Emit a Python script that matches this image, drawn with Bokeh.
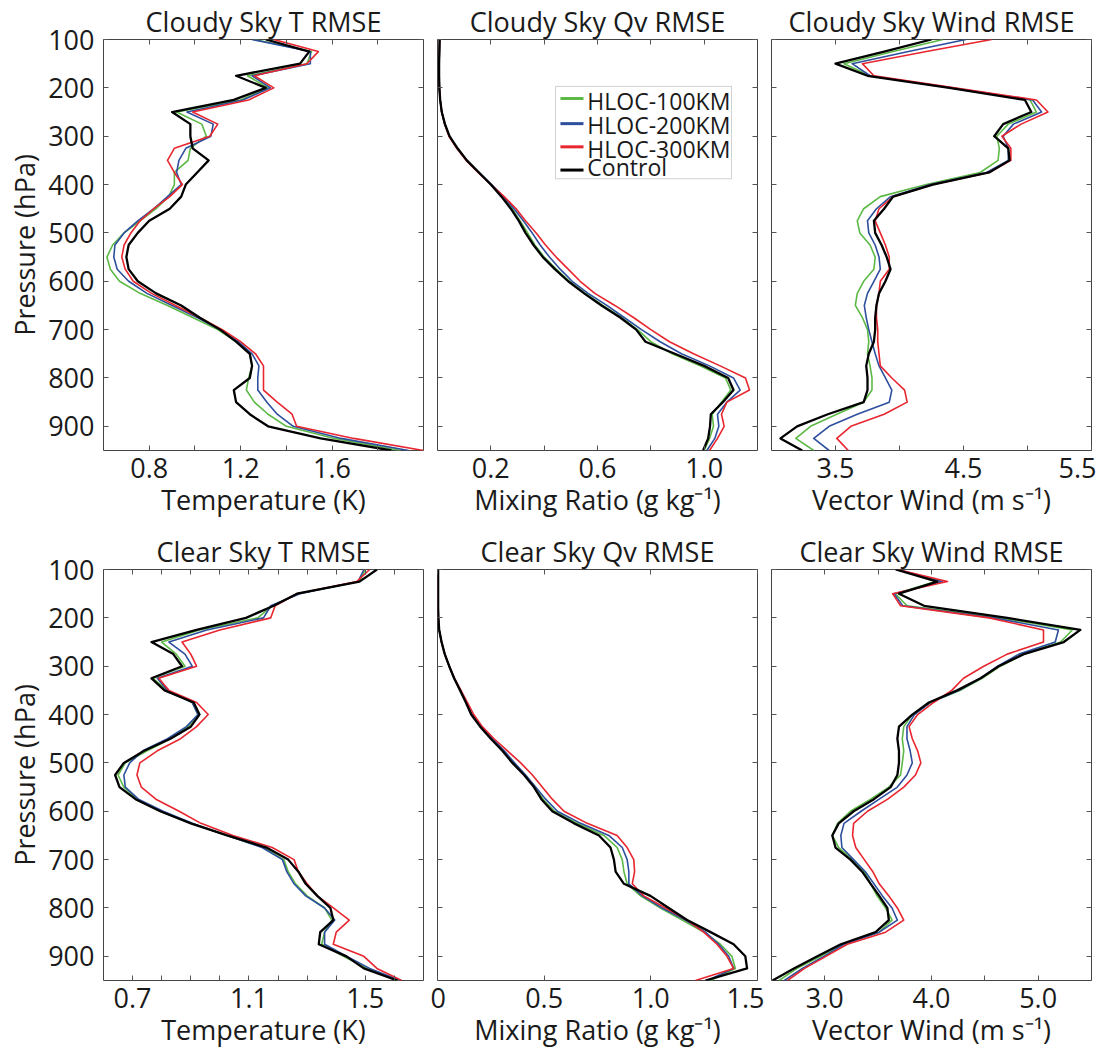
from bokeh.plotting import figure
from bokeh.layouts import row, column
from bokeh.models import Range1d, FixedTicker, LinearAxis, BoxAnnotation, ColumnDataSource
from bokeh.core.properties import value
from bokeh.embed import file_html
from bokeh.resources import INLINE

# ---------------- data ----------------
pressure = [100, 125, 150, 175, 200, 225, 250, 275, 300, 325, 350, 375, 400, 425, 450, 475,
            500, 525, 550, 575, 600, 625, 650, 675, 700, 725, 750, 775, 800, 825, 850, 875,
            900, 925, 950]
series_names = ["HLOC-100KM", "HLOC-200KM", "HLOC-300KM", "Control"]

# Cloudy sky temperature RMSE (K)
cloudy_t_100 = [1.26, 1.51, 1.49, 1.23, 1.32, 1.20, 0.92, 1.03, 1.05, 0.98, 0.97, 0.91, 0.91, 0.885, 0.83, 0.76,
                0.69, 0.64, 0.615, 0.63, 0.67, 0.76, 0.88, 0.99, 1.10, 1.18, 1.24, 1.25, 1.235, 1.225, 1.26, 1.32,
                1.40, 1.61, 1.90]
cloudy_t_200 = [1.25, 1.505, 1.505, 1.25, 1.33, 1.21, 0.965, 1.08, 1.07, 0.96, 0.93, 0.92, 0.94, 0.88, 0.82, 0.75,
                0.69, 0.65, 0.645, 0.66, 0.71, 0.79, 0.90, 1.01, 1.11, 1.19, 1.25, 1.28, 1.275, 1.275, 1.315, 1.36,
                1.43, 1.64, 1.935]
cloudy_t_300 = [1.345, 1.54, 1.49, 1.26, 1.345, 1.235, 0.99, 1.10, 1.065, 0.91, 0.88, 0.91, 0.945, 0.89, 0.82, 0.76,
                0.72, 0.69, 0.68, 0.695, 0.73, 0.81, 0.915, 1.02, 1.12, 1.20, 1.265, 1.30, 1.30, 1.30, 1.36, 1.425,
                1.445, 1.695, 2.0]
cloudy_t_ctl = [1.31, 1.50, 1.46, 1.18, 1.31, 1.17, 0.90, 0.98, 0.98, 0.99, 1.06, 1.01, 0.96, 0.94, 0.89, 0.80,
                0.75, 0.71, 0.70, 0.71, 0.75, 0.83, 0.94, 1.02, 1.11, 1.18, 1.24, 1.25, 1.24, 1.17, 1.18, 1.24,
                1.32, 1.55, 1.86]

# Cloudy sky water vapour mixing ratio RMSE (g/kg)
cloudy_q_100 = [0.008, 0.007, 0.006, 0.006, 0.007, 0.010, 0.016, 0.028, 0.045, 0.075, 0.110, 0.155, 0.200, 0.243,
                0.280, 0.310, 0.338, 0.365, 0.400, 0.445, 0.495, 0.555, 0.620, 0.690, 0.750, 0.800, 0.880, 0.985,
                1.080, 1.100, 1.065, 1.030, 1.035, 1.020, 1.000]
cloudy_q_200 = [0.008, 0.007, 0.006, 0.006, 0.007, 0.010, 0.016, 0.027, 0.044, 0.074, 0.110, 0.157, 0.203, 0.247,
                0.287, 0.322, 0.355, 0.385, 0.420, 0.460, 0.505, 0.565, 0.635, 0.700, 0.765, 0.835, 0.915, 1.020,
                1.110, 1.135, 1.085, 1.050, 1.055, 1.040, 1.010]
cloudy_q_300 = [0.008, 0.007, 0.006, 0.006, 0.007, 0.010, 0.016, 0.027, 0.043, 0.072, 0.107, 0.152, 0.200, 0.250,
                0.295, 0.330, 0.370, 0.405, 0.445, 0.490, 0.535, 0.590, 0.665, 0.735, 0.800, 0.870, 0.960, 1.060,
                1.155, 1.170, 1.085, 1.065, 1.075, 1.050, 1.020]
cloudy_q_ctl = [0.008, 0.007, 0.006, 0.006, 0.007, 0.010, 0.016, 0.028, 0.045, 0.075, 0.110, 0.155, 0.200, 0.240,
                0.275, 0.305, 0.330, 0.360, 0.395, 0.440, 0.490, 0.550, 0.615, 0.685, 0.745, 0.780, 0.890, 1.000,
                1.090, 1.110, 1.070, 1.025, 1.022, 1.015, 0.996]

# Cloudy sky vector wind RMSE (m/s)
cloudy_w_100 = [4.34, 3.95, 3.565, 3.77, 4.40, 5.02, 5.07, 4.85, 4.76, 4.78, 4.77, 4.63, 4.21, 3.85, 3.72, 3.67,
                3.69, 3.77, 3.81, 3.80, 3.72, 3.67, 3.655, 3.71, 3.75, 3.76, 3.75, 3.77, 3.785, 3.785, 3.72, 3.51,
                3.305, 3.19, 3.33]
cloudy_w_200 = [4.52, 4.07, 3.63, 3.77, 4.41, 5.04, 5.11, 4.89, 4.81, 4.85, 4.85, 4.68, 4.24, 3.93, 3.82, 3.75,
                3.76, 3.81, 3.84, 3.85, 3.80, 3.75, 3.725, 3.74, 3.76, 3.785, 3.81, 3.84, 3.89, 3.94, 3.92, 3.67,
                3.45, 3.33, 3.45]
cloudy_w_300 = [4.72, 4.21, 3.71, 3.80, 4.43, 5.07, 5.16, 4.95, 4.80, 4.87, 4.87, 4.70, 4.26, 3.95, 3.84, 3.81,
                3.85, 3.89, 3.92, 3.92, 3.85, 3.84, 3.82, 3.82, 3.83, 3.83, 3.84, 3.85, 3.94, 4.04, 4.06, 3.88,
                3.62, 3.51, 3.60]
cloudy_w_ctl = [4.25, 3.88, 3.50, 3.75, 4.39, 4.98, 5.03, 4.81, 4.74, 4.85, 4.86, 4.70, 4.26, 3.95, 3.88, 3.80,
                3.81, 3.86, 3.90, 3.93, 3.89, 3.84, 3.82, 3.81, 3.81, 3.80, 3.76, 3.74, 3.75, 3.75, 3.72, 3.44,
                3.20, 3.07, 3.24]

# Clear sky temperature RMSE (K)
clear_t_100 = [1.50, 1.48, 1.27, 1.18, 1.13, 0.93, 0.80, 0.85, 0.88, 0.77, 0.82, 0.905, 0.925, 0.89, 0.83, 0.75,
               0.675, 0.65, 0.67, 0.715, 0.795, 0.90, 1.025, 1.15, 1.22, 1.235, 1.26, 1.30, 1.36, 1.385, 1.36, 1.35,
               1.425, 1.505, 1.615]
clear_t_200 = [1.495, 1.475, 1.275, 1.175, 1.15, 0.955, 0.825, 0.88, 0.905, 0.785, 0.82, 0.905, 0.925, 0.885, 0.82,
               0.735, 0.69, 0.67, 0.675, 0.72, 0.805, 0.905, 1.025, 1.145, 1.215, 1.23, 1.255, 1.295, 1.36, 1.395,
               1.36, 1.36, 1.435, 1.515, 1.62]
clear_t_300 = [1.515, 1.47, 1.265, 1.19, 1.175, 1.00, 0.87, 0.90, 0.92, 0.79, 0.825, 0.92, 0.96, 0.92, 0.865, 0.785,
               0.725, 0.715, 0.73, 0.78, 0.86, 0.935, 1.045, 1.18, 1.255, 1.27, 1.30, 1.335, 1.39, 1.445, 1.40, 1.39,
               1.495, 1.54, 1.625]
clear_t_ctl = [1.54, 1.48, 1.265, 1.185, 1.09, 0.92, 0.765, 0.84, 0.87, 0.765, 0.81, 0.91, 0.93, 0.90, 0.83, 0.74,
               0.67, 0.64, 0.655, 0.71, 0.795, 0.90, 1.025, 1.16, 1.235, 1.27, 1.295, 1.335, 1.38, 1.39, 1.345, 1.34,
               1.435, 1.495, 1.61]

# Clear sky water vapour mixing ratio RMSE (g/kg)
clear_q_100 = [0.003, 0.003, 0.003, 0.003, 0.004, 0.008, 0.019, 0.034, 0.055, 0.078, 0.106, 0.134, 0.160, 0.203,
               0.253, 0.308, 0.356, 0.411, 0.457, 0.495, 0.548, 0.655, 0.780, 0.842, 0.866, 0.874, 0.889, 0.952,
               1.045, 1.147, 1.248, 1.326, 1.380, 1.396, 1.280]
clear_q_200 = [0.003, 0.003, 0.003, 0.003, 0.004, 0.008, 0.019, 0.034, 0.055, 0.078, 0.107, 0.135, 0.162, 0.205,
               0.257, 0.313, 0.362, 0.413, 0.460, 0.507, 0.562, 0.671, 0.803, 0.866, 0.889, 0.897, 0.897, 0.960,
               1.053, 1.162, 1.256, 1.318, 1.365, 1.388, 1.264]
clear_q_300 = [0.003, 0.003, 0.003, 0.003, 0.004, 0.008, 0.019, 0.034, 0.055, 0.080, 0.110, 0.140, 0.170, 0.210,
               0.265, 0.328, 0.390, 0.445, 0.491, 0.538, 0.593, 0.702, 0.842, 0.889, 0.920, 0.924, 0.913, 0.967,
               1.069, 1.170, 1.248, 1.310, 1.357, 1.388, 1.209]
clear_q_ctl = [0.003, 0.003, 0.003, 0.003, 0.004, 0.008, 0.019, 0.034, 0.055, 0.078, 0.106, 0.133, 0.158, 0.200,
               0.250, 0.304, 0.351, 0.406, 0.452, 0.487, 0.538, 0.640, 0.757, 0.811, 0.827, 0.835, 0.874, 0.998,
               1.084, 1.170, 1.280, 1.388, 1.443, 1.451, 1.256]

# Clear sky vector wind RMSE (m/s)
clear_w_100 = [3.68, 4.04, 3.66, 3.77, 4.65, 5.32, 5.21, 4.865, 4.646, 4.475, 4.27, 3.99, 3.82, 3.74, 3.726, 3.74,
               3.726, 3.71, 3.60, 3.43, 3.24, 3.12, 3.07, 3.13, 3.26, 3.37, 3.43, 3.49, 3.57, 3.63, 3.51, 3.16,
               2.96, 2.74, 2.57]
clear_w_200 = [3.68, 4.10, 3.65, 3.73, 4.58, 5.19, 5.16, 4.82, 4.62, 4.46, 4.26, 3.99, 3.84, 3.77, 3.77, 3.80,
               3.82, 3.77, 3.68, 3.51, 3.34, 3.18, 3.15, 3.16, 3.27, 3.38, 3.46, 3.54, 3.63, 3.68, 3.51, 3.18,
               2.99, 2.79, 2.62]
clear_w_300 = [3.68, 4.15, 3.635, 3.71, 4.54, 5.05, 5.05, 4.71, 4.49, 4.30, 4.19, 4.02, 3.87, 3.79, 3.82, 3.87,
               3.90, 3.85, 3.74, 3.59, 3.40, 3.27, 3.26, 3.29, 3.37, 3.45, 3.51, 3.60, 3.68, 3.74, 3.57, 3.21,
               3.01, 2.81, 2.65]
clear_w_ctl = [3.664, 4.054, 3.695, 3.93, 4.71, 5.395, 5.24, 4.865, 4.63, 4.46, 4.24, 3.976, 3.82, 3.695, 3.68,
               3.695, 3.695, 3.68, 3.617, 3.46, 3.27, 3.13, 3.07, 3.10, 3.24, 3.35, 3.43, 3.51, 3.586, 3.60, 3.476,
               3.15, 2.93, 2.71, 2.51]

titles = ["Cloudy Sky T RMSE", "Cloudy Sky Qv RMSE", "Cloudy Sky Wind RMSE",
          "Clear Sky T RMSE", "Clear Sky Qv RMSE", "Clear Sky Wind RMSE"]
xlabels = ["Temperature (K)", "Mixing Ratio (g kg\u207b\u00b9)", "Vector Wind (m s\u207b\u00b9)",
           "Temperature (K)", "Mixing Ratio (g kg\u207b\u00b9)", "Vector Wind (m s\u207b\u00b9)"]
xranges = [(0.6, 2.0), (0.0, 1.2), (3.0, 5.5), (0.6, 1.7), (0.0, 1.5), (2.5, 5.5)]
# labelled x ticks and their labels
xticks = [[0.8, 1.2, 1.6], [0.2, 0.6, 1.0], [3.5, 4.5, 5.5],
          [0.7, 1.1, 1.5], [0.0, 0.5, 1.0, 1.5], [3.0, 4.0, 5.0]]
xtick_labels = [["0.8", "1.2", "1.6"], ["0.2", "0.6", "1.0"], ["3.5", "4.5", "5.5"],
                ["0.7", "1.1", "1.5"], ["0", "0.5", "1.0", "1.5"], ["3.0", "4.0", "5.0"]]
# unlabelled x tick marks
xticks_minor = [[1.0, 1.4, 1.8], [0.4, 0.8], [4.0, 5.0],
                [0.8, 0.9, 1.0, 1.2, 1.3, 1.4, 1.6], [], [3.5, 4.5]]
yticks = [100, 200, 300, 400, 500, 600, 700, 800, 900]
panel_data = [
    [cloudy_t_100, cloudy_t_200, cloudy_t_300, cloudy_t_ctl],
    [cloudy_q_100, cloudy_q_200, cloudy_q_300, cloudy_q_ctl],
    [cloudy_w_100, cloudy_w_200, cloudy_w_300, cloudy_w_ctl],
    [clear_t_100, clear_t_200, clear_t_300, clear_t_ctl],
    [clear_q_100, clear_q_200, clear_q_300, clear_q_ctl],
    [clear_w_100, clear_w_200, clear_w_300, clear_w_ctl],
]

# ---------------- style ----------------
colors = ["#5cb946", "#2e4f9e", "#e8262f", "#000000"]
widths = [1.6, 1.6, 1.6, 2.3]
FONT = "Open Sans"
TXT = "#1a1a1a"
TICK = "#555555"
FW, FH = 320, 411


def style_mirror(ax):
    ax.axis_line_color = None
    ax.major_tick_in = 5
    ax.major_tick_out = 0
    ax.major_tick_line_color = TICK
    ax.minor_tick_in = 5
    ax.minor_tick_out = 0
    ax.minor_tick_line_color = TICK
    ax.major_label_text_color = None
    ax.major_label_text_font_size = "0px"
    ax.major_label_standoff = 0


def make_panel(i):
    col = i % 3
    rw = i // 3
    xr = xranges[i]
    p = figure(frame_width=FW, frame_height=FH,
               x_range=Range1d(*xr), y_range=Range1d(950, 100),
               output_backend="svg", toolbar_location=None,
               min_border_left=[103, 7, 7][col], min_border_right=[7, 7, 5][col],
               min_border_top=[39, 37][rw], min_border_bottom=[80, 65][rw],
               background_fill_color="white", border_fill_color="white")
    p.outline_line_color = "#444444"
    p.outline_line_width = 1
    p.xgrid.visible = False
    p.ygrid.visible = False

    p.title.text = titles[i]
    p.title.align = "center"
    p.title.text_font = FONT
    p.title.text_font_size = "27px"
    p.title.text_font_style = "normal"
    p.title.text_color = TXT
    p.title.standoff = 0

    for s in range(4):
        p.line(panel_data[i][s], pressure, line_color=colors[s], line_width=widths[s],
               line_join="round")

    # bottom x axis
    xa = p.xaxis[0]
    xa.ticker = FixedTicker(ticks=xticks[i], minor_ticks=xticks_minor[i])
    xa.major_label_overrides = {t: lab for t, lab in zip(xticks[i], xtick_labels[i])}
    xa.axis_line_color = None
    xa.major_tick_in = 5
    xa.major_tick_out = 0
    xa.major_tick_line_color = TICK
    xa.minor_tick_in = 5
    xa.minor_tick_out = 0
    xa.minor_tick_line_color = TICK
    xa.major_label_text_font = FONT
    xa.major_label_text_font_size = "27px"
    xa.major_label_text_color = TXT
    xa.major_label_standoff = 7
    xa.axis_label = xlabels[i]
    xa.axis_label_text_font = FONT
    xa.axis_label_text_font_size = "27px"
    xa.axis_label_text_font_style = "normal"
    xa.axis_label_text_color = TXT
    xa.axis_label_standoff = 0

    # left y axis
    ya = p.yaxis[0]
    ya.ticker = FixedTicker(ticks=yticks)
    if col == 0:
        ya.axis_line_color = None
        ya.major_tick_in = 5
        ya.major_tick_out = 0
        ya.major_tick_line_color = TICK
        ya.minor_tick_line_color = None
        ya.major_label_text_font = FONT
        ya.major_label_text_font_size = "27px"
        ya.major_label_text_color = TXT
        ya.major_label_standoff = 9
        ya.axis_label = "Pressure (hPa)"
        ya.axis_label_text_font = FONT
        ya.axis_label_text_font_size = "27px"
        ya.axis_label_text_font_style = "normal"
        ya.axis_label_text_color = TXT
        ya.axis_label_standoff = 2
    else:
        style_mirror(ya)

    # mirrored tick marks on top and right
    top = LinearAxis(ticker=FixedTicker(ticks=xticks[i], minor_ticks=xticks_minor[i]))
    style_mirror(top)
    p.add_layout(top, "above")
    right = LinearAxis(ticker=FixedTicker(ticks=yticks))
    style_mirror(right)
    p.add_layout(right, "right")

    if i == 1:
        # legend box drawn inside the Qv panel (MATLAB-style legend)
        p.add_layout(BoxAnnotation(left=0.4425, right=1.1025, top=197, bottom=388,
                                   fill_color="white", fill_alpha=1.0,
                                   line_color="#666666", line_width=1, level="underlay"))
        leg = ColumnDataSource(dict(
            x0=[0.461] * 4, x1=[0.5475] * 4,
            ys=[222, 274, 322, 370],
            xt=[0.562] * 4,
            yt=[227, 276, 327, 364],
            name=series_names, color=colors))
        p.segment(x0="x0", y0="ys", x1="x1", y1="ys", line_color="color", line_width=3,
                  source=leg, level="overlay")
        p.text(x="xt", y="yt", text="name", text_font=value(FONT), text_font_size=value("23px"),
               text_color=TXT, text_baseline="alphabetic", text_align="left",
               source=leg, level="overlay")
    return p


panels = [make_panel(i) for i in range(6)]
layout = column(row(panels[0], panels[1], panels[2]), row(panels[3], panels[4], panels[5]))

open("out.html", "w").write(file_html(layout, INLINE))
